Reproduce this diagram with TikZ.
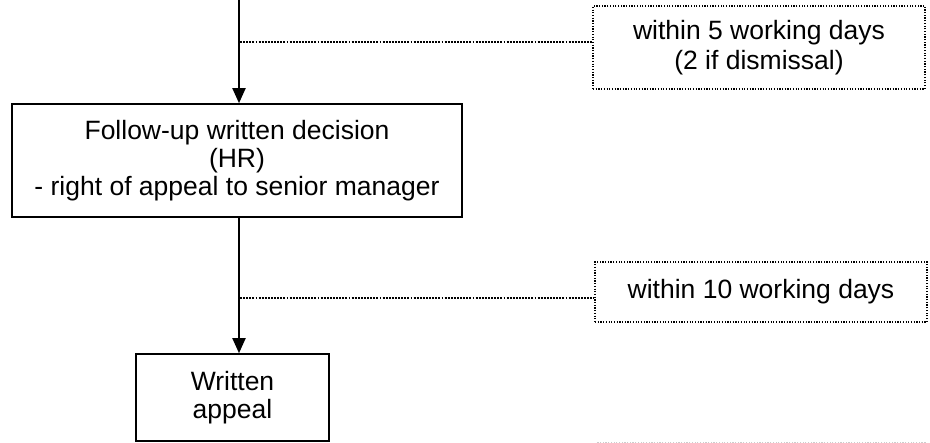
\documentclass[tikz,border=0pt]{standalone}
\usepackage{fontspec}
\setmainfont{Liberation Sans}
\usetikzlibrary{arrows.meta, positioning}
\tikzset{
  stage/.style={rectangle, draw=black, fill=white, line width=1.6pt,
                align=center, inner sep=0pt, font=\fontsize{26.5}{27.8}\selectfont},
  note/.style={rectangle, draw=black, line width=1.3pt, dash pattern=on 1.2pt off 1.5pt,
               align=center, inner sep=0pt, font=\fontsize{26.5}{29.5}\selectfont},
  flow/.style={-{Triangle[length=15pt,width=13pt]}, line width=1.9pt},
  link/.style={line width=1.9pt, dash pattern=on 1.9pt off 1.2pt},
}

\begin{document}
\begin{tikzpicture}[x=1pt, y=-1pt]
  \useasboundingbox (0,0) rectangle (930,443);

  % Main flow
  \coordinate (start) at (239,0);
  \node[stage, minimum width=450pt, minimum height=113pt] (decision) at (237,160.5)
    {Follow-up written decision\\(HR)\\- right of appeal to senior manager};
  \node[stage, minimum width=193pt, minimum height=87pt] (appeal) at (232.5,397.5)
    {Written\\appeal};

  \draw[flow] (start) -- (start |- decision.north);
  \draw[flow] (start |- decision.south) -- (start |- appeal.north);

  % Time limits
  \node[note, minimum width=332pt, minimum height=83pt] (limit1) at (759,47.5)
    {within 5 working days\\(2 if dismissal)};
  \node[note, minimum width=332pt, minimum height=60pt] (limit2) at (761,292)
    {within 10 working days};
  \node[note, draw=gray!40, minimum width=329pt, minimum height=60pt, anchor=north] (limit3) at (760.5,442) {};

  \coordinate (tap1) at (240,42);
  \coordinate (tap2) at (240,298);
  \draw[link] (tap1) -- (tap1 -| limit1.west);
  \draw[link] (tap2) -- (tap2 -| limit2.west);

\end{tikzpicture}
\end{document}
